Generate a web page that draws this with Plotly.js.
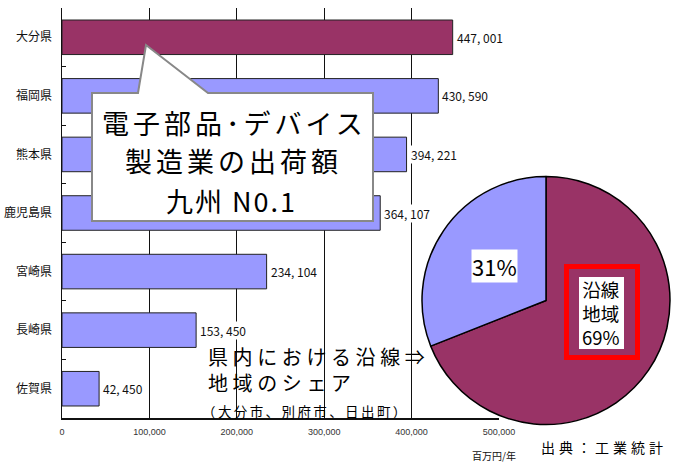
<!DOCTYPE html>
<html><head><meta charset="utf-8">
<script src="https://cdn.plot.ly/plotly-3.0.1.min.js"></script>
<style>html,body{margin:0;padding:0;background:#fff}</style>
</head><body><div id="chart" style="width:675px;height:462px"></div>
<script>
// ---- data ----
const prefectures = ['大分県','福岡県','熊本県','鹿児島県','宮崎県','長崎県','佐賀県'];
const shipments = [447001, 430590, 394221, 364107, 234104, 153450, 42450];
const highlightPref = '大分県';
const xTickVals = [0, 100000, 200000, 300000, 400000, 500000];
const xTickText = ['0', '100,000', '200,000', '300,000', '400,000', '500,000'];
const shareLabels = ['沿線地域', 'その他'];
const shareValues = [69, 31];

// ---- helpers ----
const W = 675, H = 462;
const px = x => x / W;
const py = y => 1 - y / H;
const fmt = v => { const s = String(v); return s.slice(0, -3) + ', ' + s.slice(-3); };
const sp = (t, n) => '<span style="letter-spacing:' + n + 'px">' + t + '</span>';
const CJK = '"Noto Sans CJK JP", "Noto Sans", sans-serif';
const NARROW = '"Liberation Sans Narrow", "Noto Sans CJK JP", sans-serif';

const barTrace = {
  type: 'bar', orientation: 'h',
  x: shipments, y: prefectures,
  marker: {
    color: prefectures.map(p => p === highlightPref ? '#993366' : '#9999FF'),
    line: {color: '#222', width: 1}
  },
  hoverinfo: 'none', showlegend: false
};

const pieTrace = {
  type: 'pie', values: shareValues, labels: shareLabels,
  sort: false, direction: 'clockwise', rotation: 0,
  marker: {colors: ['#993366', '#9999FF'], line: {color: '#000', width: 1.5}},
  textinfo: 'none', hoverinfo: 'none', showlegend: false,
  domain: {x: [px(422), px(670)], y: [py(425), py(176)]}
};

const valueAnns = shipments.map((v, i) => ({
  x: v, y: prefectures[i], xref: 'x', yref: 'y',
  text: fmt(v), showarrow: false, xanchor: 'left', yanchor: 'middle', xshift: 3,
  bgcolor: '#fff', borderpad: 0,
  font: {family: NARROW, size: 12, color: '#111'}
}));

const textAnns = [
  {x: px(234), y: py(122), text: sp('電子部品･デバイス', 4), font: {family: CJK, size: 27, color: '#000'}},
  {x: px(233), y: py(160), text: sp('製造業の出荷額', 4), font: {family: CJK, size: 27, color: '#000'}},
  {x: px(231), y: py(200), text: sp('九州 N0.1', 2), font: {family: CJK, size: 27, color: '#000'}},
  {x: px(206), y: py(369), xanchor: 'left', align: 'left',
   text: sp('県内における沿線⇒', 4.6) + '<br>' + sp('地域のシェア', 4.6), font: {family: CJK, size: 20, color: '#000'}},
  {x: px(200), y: py(411), xanchor: 'left', text: sp('（大分市、別府市、日出町）', 2.4), font: {family: CJK, size: 13.5, color: '#000'}},
  {x: px(495), y: py(266), text: shareValues[1] + '%', bgcolor: '#fff', borderpad: 0, font: {family: NARROW, size: 22, color: '#000'}},
  {x: px(601), y: py(313), text: '沿線<br>地域<br>' + shareValues[0] + '%', font: {family: CJK, size: 18.5, color: '#000'}},
  {x: px(604), y: py(447), text: sp('出典：工業統計', 4), font: {family: CJK, size: 14, color: '#000'}},
  {x: px(494), y: py(455), text: '百万円/年', font: {family: CJK, size: 10, color: '#111'}}
].map(a => Object.assign({xref: 'paper', yref: 'paper', showarrow: false, xanchor: 'center', yanchor: 'middle'}, a));

const callout = 'M' + px(92) + ',' + py(93) + ' L' + px(138) + ',' + py(93) + ' L' + px(146) + ',' + py(45) +
  ' L' + px(208) + ',' + py(93) + ' L' + px(373) + ',' + py(93) + ' L' + px(373) + ',' + py(221) +
  ' L' + px(92) + ',' + py(221) + ' Z';

const shapes = [
  {type: 'path', path: callout, xref: 'paper', yref: 'paper', fillcolor: '#fff', line: {color: '#888', width: 2}, layer: 'above'},
  {type: 'rect', xref: 'paper', yref: 'paper', x0: px(566.5), x1: px(637.5), y0: py(266.5), y1: py(357.5), line: {color: '#ff0000', width: 5}, layer: 'above'},
  {type: 'rect', xref: 'paper', yref: 'paper', x0: px(579), x1: px(624), y0: py(277), y1: py(349), fillcolor: '#fff', line: {width: 0}, layer: 'above'}
];

const layout = {
  width: W, height: H,
  margin: {l: 0, r: 0, t: 0, b: 0},
  paper_bgcolor: '#fff', plot_bgcolor: '#fff',
  showlegend: false, bargap: 0.41,
  xaxis: {
    domain: [px(62), px(499)], range: [0, 500000], fixedrange: true,
    tickvals: xTickVals, ticktext: xTickText, ticks: '',
    showgrid: true, gridcolor: '#111', gridwidth: 1, zeroline: false,
    showline: true, linecolor: '#111', linewidth: 1.5,
    ticklabelstandoff: 5,
    tickfont: {family: '"Liberation Sans", Arial, sans-serif', size: 9, color: '#333'}
  },
  yaxis: {
    domain: [py(418), py(8)], type: 'category', autorange: 'reversed', fixedrange: true,
    tickson: 'boundaries', ticks: 'inside', ticklen: 4, tickcolor: '#111',
    showgrid: false, showline: true, linecolor: '#111', linewidth: 1.5,
    ticklabelstandoff: 6,
    tickfont: {family: CJK, size: 12, color: '#111'}
  },
  annotations: valueAnns.concat(textAnns),
  shapes: shapes
};

Plotly.newPlot('chart', [barTrace, pieTrace], layout, {staticPlot: true, displayModeBar: false});
</script></body></html>
